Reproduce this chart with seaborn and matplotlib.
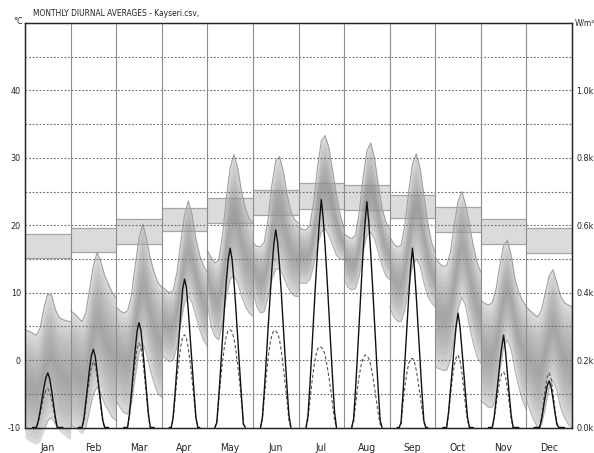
import numpy as np
import pandas as pd
import matplotlib
matplotlib.use("Agg")
import matplotlib.pyplot as plt
import seaborn as sns

# ---- data -------------------------------------------------------------
months = ["Jan", "Feb", "Mar", "Apr", "May", "Jun",
          "Jul", "Aug", "Sep", "Oct", "Nov", "Dec"]

# hourly temperature envelope (deg C), sampled every two hours of the day
temp_hours = [0, 2, 4, 6, 8, 10, 12, 14, 16, 18, 20, 22, 24]
temp_max = [
    [4.5, 4.3, 4.0, 3.7, 4.8, 7.8, 9.8, 9.6, 7.5, 6.3, 6.0, 5.8, 5.7],
    [7.3, 6.9, 6.3, 5.7, 7.0, 10.5, 14.0, 16.0, 14.5, 12.5, 11.2, 10.0, 9.2],
    [7.9, 7.3, 7.0, 7.3, 9.5, 14.0, 18.0, 20.2, 18.0, 15.0, 13.0, 11.5, 10.8],
    [10.9, 10.4, 10.0, 10.3, 13.0, 17.5, 21.5, 23.6, 21.5, 18.0, 15.5, 14.0, 13.0],
    [16.3, 15.2, 14.4, 14.8, 18.5, 24.0, 28.5, 30.5, 28.5, 25.0, 22.5, 21.0, 20.3],
    [17.4, 16.9, 16.8, 17.5, 21.0, 26.0, 29.5, 30.2, 28.0, 24.5, 22.0, 20.8, 20.3],
    [19.8, 19.4, 19.3, 20.0, 23.5, 28.5, 32.5, 33.3, 31.5, 28.0, 24.5, 21.5, 19.5],
    [18.8, 18.3, 18.0, 18.5, 22.0, 27.0, 31.0, 32.2, 30.0, 26.0, 22.5, 20.5, 19.3],
    [18.3, 17.3, 16.8, 17.0, 20.0, 25.0, 29.0, 30.6, 28.5, 24.5, 20.5, 17.5, 15.9],
    [15.3, 14.4, 13.9, 14.0, 16.0, 20.0, 23.5, 25.0, 23.0, 20.0, 17.0, 14.5, 13.0],
    [8.9, 8.4, 8.2, 8.5, 10.5, 14.0, 17.0, 17.8, 15.5, 12.0, 10.0, 8.8, 7.9],
    [7.9, 7.3, 6.8, 6.4, 7.5, 10.0, 12.5, 13.4, 11.5, 9.5, 8.5, 8.2, 7.9],
]
temp_min = [
    [-11.5, -12.0, -12.3, -12.5, -12.0, -10.5, -9.0, -8.5, -9.5, -10.5, -11.0, -11.5, -11.8],
    [-9.5, -10.0, -10.5, -11.0, -10.0, -7.5, -5.0, -4.0, -5.0, -6.5, -7.5, -8.5, -9.0],
    [-6.0, -7.0, -7.8, -8.0, -6.5, -2.5, 1.0, 2.5, 1.0, -1.5, -3.5, -5.0, -5.5],
    [0.8, 0.2, -0.2, 0.0, 2.0, 5.5, 8.5, 9.5, 8.5, 6.5, 4.5, 3.0, 2.0],
    [8.5, 5.0, 3.5, 3.0, 5.5, 9.5, 12.0, 12.5, 11.5, 9.5, 8.0, 7.0, 6.5],
    [10.5, 8.0, 7.0, 7.2, 9.5, 12.0, 13.5, 13.5, 12.5, 11.0, 10.0, 9.5, 9.4],
    [11.5, 11.4, 11.4, 12.0, 14.0, 17.0, 19.0, 19.5, 18.5, 17.0, 15.5, 15.0, 14.9],
    [12.0, 10.8, 10.4, 10.6, 12.5, 16.0, 18.5, 19.0, 18.0, 16.0, 14.0, 12.5, 11.9],
    [7.9, 6.5, 5.8, 5.7, 7.5, 11.0, 14.0, 15.0, 14.0, 11.5, 9.5, 8.5, 7.9],
    [-1.0, -1.3, -1.5, -1.5, 0.0, 3.5, 7.5, 9.4, 8.0, 5.0, 2.5, 0.5, -0.5],
    [-6.0, -6.5, -7.0, -7.0, -5.5, -1.5, 2.0, 3.0, 1.5, -1.5, -4.0, -6.0, -7.4],
    [-6.0, -7.5, -9.0, -10.0, -9.5, -7.0, -4.0, -3.0, -4.5, -7.0, -8.5, -9.5, -10.0],
]

# thermal comfort band per month (deg C)
comfort_low = [15.2, 16.1, 17.2, 19.1, 20.4, 21.5, 22.4, 22.3, 21.1, 19.0, 17.2, 15.9]
comfort_high = [18.7, 19.6, 20.9, 22.5, 24.1, 25.3, 26.2, 25.9, 24.5, 22.7, 21.0, 19.6]

# hourly solar radiation (W/m2), hours 4..20
solar_hours = list(range(4, 21))
direct = [
    [0, 0, 0, 20, 50, 85, 120, 148, 162, 145, 110, 70, 30, 0, 0, 0, 0],
    [0, 0, 0, 25, 75, 125, 175, 215, 232, 210, 165, 115, 65, 20, 0, 0, 0],
    [0, 0, 0, 40, 100, 165, 230, 285, 311, 290, 235, 170, 105, 40, 0, 0, 0],
    [0, 0, 30, 100, 180, 260, 340, 410, 440, 415, 345, 265, 185, 105, 30, 0, 0],
    [0, 15, 90, 175, 265, 355, 435, 500, 532, 500, 435, 355, 265, 175, 90, 10, 0],
    [0, 30, 110, 200, 295, 385, 470, 545, 586, 550, 480, 395, 300, 205, 115, 35, 0],
    [0, 35, 125, 225, 330, 430, 525, 610, 676, 620, 540, 445, 345, 240, 140, 45, 0],
    [0, 25, 110, 210, 315, 420, 520, 605, 670, 610, 520, 420, 315, 210, 110, 20, 0],
    [0, 0, 15, 100, 195, 290, 385, 470, 532, 475, 390, 295, 200, 105, 20, 0, 0],
    [0, 0, 0, 45, 110, 175, 240, 300, 339, 300, 235, 165, 95, 30, 0, 0, 0],
    [0, 0, 0, 30, 80, 135, 190, 240, 274, 225, 160, 95, 35, 0, 0, 0, 0],
    [0, 0, 0, 0, 25, 60, 95, 125, 138, 120, 85, 45, 10, 0, 0, 0, 0],
]
diffuse = [
    [0, 0, 0, 15, 40, 70, 95, 110, 115, 105, 85, 55, 20, 0, 0, 0, 0],
    [0, 0, 0, 20, 65, 110, 150, 180, 195, 185, 150, 105, 55, 15, 0, 0, 0],
    [0, 0, 0, 35, 90, 145, 195, 235, 250, 240, 200, 150, 90, 30, 0, 0, 0],
    [0, 0, 25, 85, 145, 195, 240, 268, 275, 265, 235, 190, 140, 85, 25, 0, 0],
    [0, 15, 80, 140, 195, 240, 272, 288, 290, 285, 265, 230, 185, 135, 75, 10, 0],
    [0, 25, 90, 150, 205, 248, 275, 288, 286, 280, 260, 225, 180, 130, 75, 20, 0],
    [0, 25, 80, 130, 175, 210, 232, 240, 238, 232, 215, 185, 150, 110, 65, 20, 0],
    [0, 15, 65, 115, 155, 185, 205, 215, 213, 205, 185, 155, 120, 80, 40, 10, 0],
    [0, 0, 10, 70, 120, 160, 190, 203, 205, 195, 170, 135, 95, 55, 15, 0, 0],
    [0, 0, 0, 40, 95, 145, 185, 208, 215, 200, 165, 115, 60, 20, 0, 0, 0],
    [0, 0, 0, 25, 65, 105, 140, 160, 165, 150, 115, 70, 25, 0, 0, 0, 0],
    [0, 0, 0, 0, 30, 75, 120, 150, 162, 145, 105, 55, 15, 0, 0, 0, 0],
]

temp_ticks = [-10, 0, 10, 20, 30, 40]
solar_ticks = [0, 200, 400, 600, 800, 1000]
solar_tick_labels = ["0.0k", "0.2k", "0.4k", "0.6k", "0.8k", "1.0k"]

# ---- style ------------------------------------------------------------
sns.set_style("white")
plt.rcParams["font.family"] = ["DejaVu Sans"]
plt.rcParams["font.stretch"] = "condensed"

W, H = 594, 453
fig = plt.figure(figsize=(W / 100, H / 100), dpi=100)
ax = fig.add_axes([25 / W, 1 - 427.5 / H, 547 / W, 404.5 / H])
ax.set_xlim(0, 12)
ax.set_ylim(-10, 50)

# comfort bands
for i in range(12):
    ax.fill_between([i, i + 1], comfort_low[i], comfort_high[i],
                    color="#c4c4c4", alpha=0.6, lw=0, zorder=1)
    ax.hlines([comfort_low[i], comfort_high[i]], i, i + 1,
              color="#a4a4a4", lw=0.9, zorder=1.5)

# temperature envelopes with a shaded core
n_layers = 10
for i in range(12):
    x = i + np.array(temp_hours) / 24.0
    up = np.array(temp_max[i])
    lo = np.array(temp_min[i])
    mid = (up + lo) / 2
    half = (up - lo) / 2
    ax.fill_between(x, lo, up, color="#b4b4b4", alpha=0.5, lw=0,
                    zorder=2, clip_on=False)
    for k in range(1, n_layers):
        f = 1 - k / n_layers
        ax.fill_between(x, mid - f * half, mid + f * half, color="#848484",
                        alpha=0.085, lw=0, zorder=2.1, clip_on=False)
    sns.lineplot(x=x, y=up, ax=ax, color="#a0a0a0", lw=0.8, zorder=2.5)
    sns.lineplot(x=x, y=lo, ax=ax, color="#b0b0b0", lw=0.8, zorder=2.5)

# grid
ax.hlines(np.arange(-5, 50, 5), 0, 12, color="#6e6e6e", lw=0.8,
          linestyles=(0, (1.6, 1.6)), zorder=3)
ax.vlines(np.arange(1, 12), -10, 50, color="#8c8c8c", lw=0.8, zorder=3)

ax.set_xticks(np.arange(12) + 0.5)
ax.set_xticklabels(months, fontsize=7.5)
ax.set_xticks(np.arange(0, 12.01, 0.25), minor=True)
ax.tick_params(axis="x", which="major", length=0, pad=11)
ax.tick_params(axis="x", which="minor", length=5, width=0.7,
               color="#777777", direction="out")
ax.set_yticks(temp_ticks)
ax.set_yticklabels([str(t) for t in temp_ticks], fontsize=6.5)
ax.tick_params(axis="y", length=0, pad=3)
for s in ax.spines.values():
    s.set_color("#222222")
    s.set_linewidth(1.0)

# solar radiation on secondary axis
ax2 = ax.twinx()
ax2.set_ylim(0, 1200)
for i in range(12):
    xs = i + np.array(solar_hours) / 24.0
    sns.lineplot(x=xs, y=diffuse[i], ax=ax2, color="#555555", lw=0.8,
                 linestyle=(0, (3, 2)))
    sns.lineplot(x=xs, y=direct[i], ax=ax2, color="#111111", lw=1.0)
ax2.set_yticks(solar_ticks)
ax2.set_yticklabels(solar_tick_labels, fontsize=6.5)
ax2.tick_params(axis="y", length=0, pad=3)
ax2.spines["right"].set_color("#222222")
ax2.grid(False)
ax.grid(False)

# titles and units
fig.text(33 / W, 1 - 13 / H, "MONTHLY DIURNAL AVERAGES - Kayseri.csv,",
         fontsize=6.0, va="center", ha="left")
fig.text(18 / W, 1 - 21 / H, "°C", fontsize=6.5, va="center", ha="center")
fig.text(575 / W, 1 - 23 / H, "W/m²", fontsize=6, va="center", ha="left")

fig.savefig("out.png", dpi=100, facecolor="white")
